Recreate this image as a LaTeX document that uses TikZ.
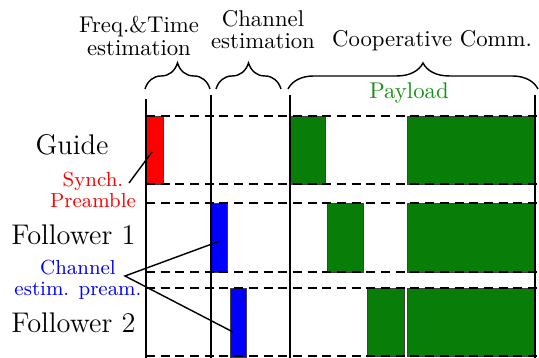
\documentclass[tikz,border=0pt]{standalone}
\usetikzlibrary{decorations.pathreplacing}
\definecolor{payload}{RGB}{8,125,8}
\definecolor{payloadtext}{RGB}{20,145,20}
\begin{document}
\begin{tikzpicture}[
            x=0.422pt, y=-0.422pt,
            slot/.style={draw=black!75, line width=0.4pt},
            grid/.style={dash pattern=on 3.8pt off 2.4pt, line width=0.55pt},
            bound/.style={line width=0.7pt},
            curly/.style={decorate, decoration={brace, amplitude=11pt}, line width=0.6pt},
            phase/.style={font=\fontsize{9.6}{9.6}\selectfont, align=center, inner sep=0pt},
            user/.style={font=\large, inner sep=0pt, anchor=base},
            note/.style={font=\fontsize{8.6}{9}\selectfont, align=center, inner sep=0pt}
        ]
            \useasboundingbox (0,0) rectangle (539,358);
            \filldraw[slot, fill=red] (146,116) rectangle (163,184);
            \filldraw[slot, fill=blue] (211,203) rectangle (227,272);
            \filldraw[slot, fill=blue] (230,288) rectangle (246,357);
            \filldraw[slot, fill=payload] (290,116) rectangle (325,184);
            \filldraw[slot, fill=payload] (407,116) rectangle (535,184);
            \filldraw[slot, fill=payload] (327,203) rectangle (363,272);
            \filldraw[slot, fill=payload] (407,203) rectangle (535,272);
            \filldraw[slot, fill=payload] (367,288) rectangle (404,356);
            \filldraw[slot, fill=payload] (407,288) rectangle (535,356);
            \foreach \y in {116,184,203,272,288,356}
                \draw[grid] (146,\y) -- (539,\y);
            \foreach \x/\t in {146/99, 211/95, 290/95, 535/95}
                \draw[bound] (\x,\t) -- (\x,358);
            \draw[curly] (145,89) -- (210,89);
            \draw[curly] (216,89) -- (281,89);
            \draw[curly, decoration={aspect=0.54}] (288,89) -- (538,89);
            \node[phase] (sync) at (139,36) {Freq.\&Time\\estimation};
            \node[phase] (chest) at (263,29.5) {Channel\\estimation};
            \node[phase, anchor=base] (coop) at (432,47) {Cooperative Comm.};
            \node[phase, anchor=base, text=payloadtext] (pay) at (409,99) {Payload};
            \node[user] (guide) at (72,155) {Guide};
            \node[user] (f1) at (73.5,245) {Follower 1};
            \node[user] (f2) at (73.5,333) {Follower 2};
            \node[note, text=red] (synch) at (93,190) {Synch.\\Preamble};
            \node[note, text=blue] (chpre) at (78,279.5) {Channel\\estim. pream.};
            \coordinate (synchtail) at (129,183);
            \coordinate (synchhead) at (152,152);
            \coordinate (chtail) at (125,276);
            \coordinate (ch1) at (220,241);
            \coordinate (ch2) at (233,332);
            \draw[line width=0.6pt] (synchtail) -- (synchhead);
            \draw[line width=0.6pt] (ch1) -- (chtail) -- (ch2);
        \end{tikzpicture}
\end{document}
